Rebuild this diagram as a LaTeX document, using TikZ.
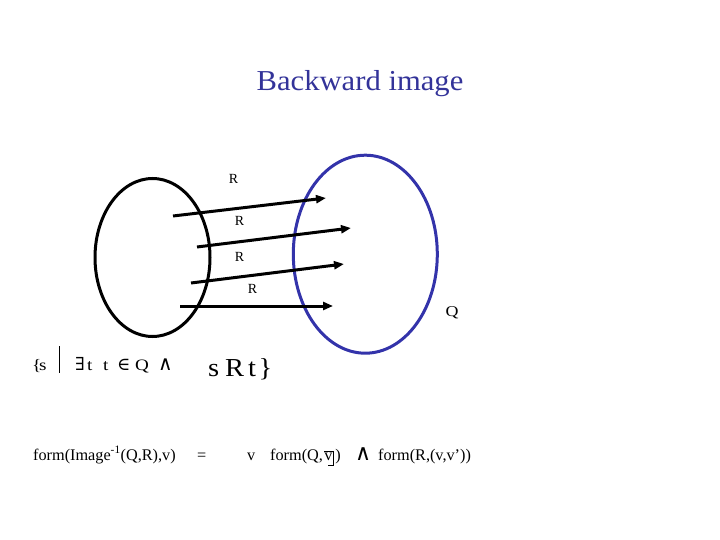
\documentclass[tikz,border=0pt]{standalone}
\usepackage{fontspec}
\setmainfont{Liberation Serif}
\newfontfamily\symfont{DejaVu Serif}
\newfontfamily\widefont[FakeStretch=1.2]{Liberation Serif}
\newfontfamily\bigfont[FakeStretch=1.1]{Liberation Serif}
\newfontfamily\titlefont[FakeStretch=1.06]{Liberation Serif}
\usetikzlibrary{shapes.geometric,arrows.meta}
\definecolor{titleblue}{RGB}{51,51,153}
\definecolor{setblue}{RGB}{51,51,170}
\tikzset{
  setshape/.style={draw, ellipse, line width=3bp, inner sep=0pt},
  relarrow/.style={line width=3bp, -{Triangle[length=10bp,width=8bp]}},
  rlabel/.style={font=\fontsize{14}{16}\selectfont, inner sep=0pt},
  txt/.style={inner sep=0pt, anchor=base west},
  small/.style={txt, font=\widefont\fontsize{16}{18}\selectfont},
  smallsym/.style={txt, font=\symfont\fontsize{18}{20}\selectfont},
  big/.style={txt, font=\bigfont\fontsize{26}{30}\selectfont},
  form/.style={txt, font=\fontsize{16.3}{18}\selectfont},
}
\begin{document}
\begin{tikzpicture}[x=1bp,y=-1bp]
\useasboundingbox (0,0) rectangle (720,540);
\node[font=\titlefont\fontsize{29}{33}\selectfont, text=titleblue, inner sep=0pt] (title) at (360,84) {Backward image};
% sets
\node[setshape, minimum width=115bp, minimum height=158bp] (S) at (152.5,257.5) {};
\node[setshape, draw=setblue, minimum width=144bp, minimum height=198bp] (Q) at (365.3,254.2) {};
% arrows
\coordinate (a1s) at (173,216); \coordinate (a1e) at (326,198);
\coordinate (a2s) at (197,247); \coordinate (a2e) at (351,228);
\coordinate (a3s) at (191,283); \coordinate (a3e) at (344,264);
\coordinate (a4s) at (180,306); \coordinate (a4e) at (333,306);
\draw[relarrow] (a1s) -- (a1e);
\draw[relarrow] (a2s) -- (a2e);
\draw[relarrow] (a3s) -- (a3e);
\draw[relarrow] (a4s) -- (a4e);
\node[rlabel] (r1) at (233.5,179) {R};
\node[rlabel] (r2) at (239.5,221) {R};
\node[rlabel] (r3) at (239.5,257) {R};
\node[rlabel] (r4) at (252.5,289) {R};
\node[font=\widefont\fontsize{15}{17}\selectfont, inner sep=0pt] (qlab) at (452,313) {Q};
% set-builder line
\node[small] (lb) at (32,370) {\{};
\node[small] (ls) at (39,370) {s};
\draw[line width=1bp] (59.5,346) -- (59.5,373);
\node[smallsym] (lex) at (75,370) {∃};
\node[small] (lt1) at (87,370) {t};
\node[small] (lt2) at (103,370) {t};
\node[smallsym] (lin) at (117,370) {∈};
\node[small] (lq) at (135,370) {Q};
\node[txt, font=\symfont\fontsize{20}{24}\selectfont] (land) at (158,370) {∧};
\node[big] (bs) at (208,376) {s};
\node[big] (bR) at (225,376) {R};
\node[big] (bt) at (248,376) {t};
\node[big] (bb) at (258.5,376) {\}};
% formula line
\node[form] (f1) at (33,460) {form(Image\textsuperscript{-1}(Q,R),v)};
\node[form] (eq) at (197,460) {=};
\node[form] (fv) at (247,460) {v};
\node[form] (f2a) at (270,460) {form(Q,};
\node[form] (vb) at ([xshift=1bp]f2a.base east) {v};
\node[form] (f2b) at ([xshift=2.5bp]vb.base east) {)};
\draw[line width=0.8bp] ([yshift=8.5bp]vb.base west) -- ([xshift=1.2bp,yshift=8.5bp]vb.base east) -- ([xshift=1.2bp,yshift=-5bp]vb.base east) -- ([xshift=-5bp,yshift=-5bp]vb.base east);
\node[txt, font=\fontsize{22}{24}\selectfont] (and2) at (355,460) {{\symfont ∧}};
\node[form] (f3) at (378,460) {form(R,(v,v’))};
\end{tikzpicture}
\end{document}
